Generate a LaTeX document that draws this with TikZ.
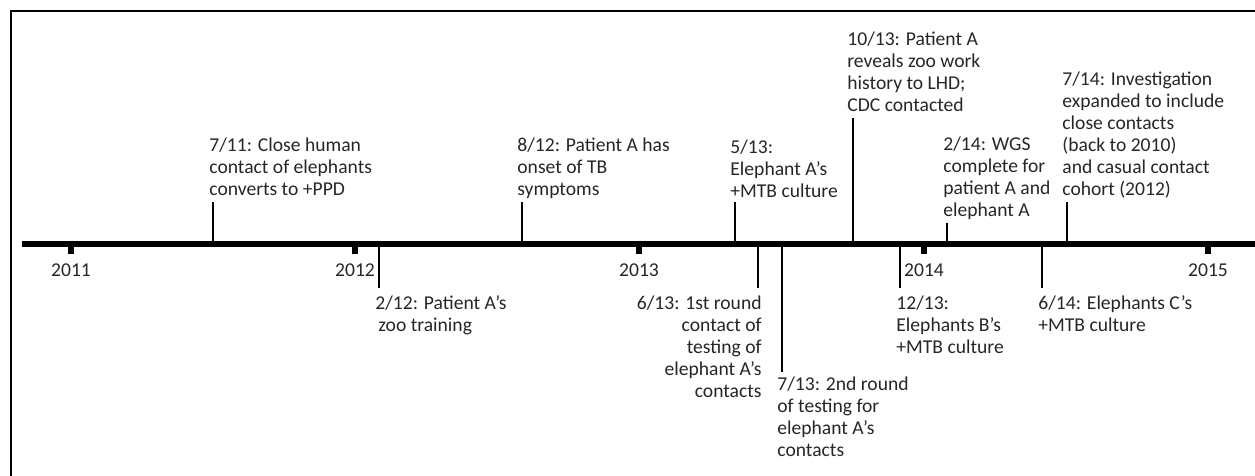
\documentclass[tikz,border=0pt]{standalone}
\usepackage{fontspec}
\setmainfont{Carlito}
\begin{document}
\begin{tikzpicture}[x=0.5pt, y=-0.5pt,
    evtext/.style={inner sep=0pt, font=\fontsize{9.8}{11}\selectfont, text=black!85},
    evline/.style={line width=1.3pt},
    yeartick/.style={line width=2.6pt}]
    \useasboundingbox (0,0) rectangle (1255,476);
    % frame (cut off at right and bottom)
    \draw[line width=1.1pt] (11,490) -- (11,11) -- (1270,11);
    % axis
    \coordinate (start) at (22,244);
    \coordinate (end) at (1270,244);
    \draw[line width=3.2pt] (start) -- (end);
    \foreach \yr/\x in {2011/71,2012/355,2013/639,2014/924,2015/1208}{
        \draw[yeartick] (\x,244) -- (\x,254);
        \node[evtext] (y\yr) at (\x,270) {\yr};
    }
    % events above the axis
    \coordinate (a711) at (213,244); \coordinate (b711) at (213,202);
    \coordinate (a812) at (522,244); \coordinate (b812) at (522,202);
    \coordinate (a513) at (735,244); \coordinate (b513) at (735,202);
    \coordinate (a1013) at (853,244); \coordinate (b1013) at (853,118);
    \coordinate (a214) at (947,244); \coordinate (b214) at (947,223);
    \coordinate (a714) at (1067,244); \coordinate (b714) at (1067,202);
    \draw[evline] (a711) -- (b711);
    \draw[evline] (a812) -- (b812);
    \draw[evline] (a513) -- (b513);
    \draw[evline] (a1013) -- (b1013);
    \draw[evline] (a214) -- (b214);
    \draw[evline] (a714) -- (b714);
    \node[evtext, anchor=north west, align=left] (t711) at (209,137) {7/11: Close human\\contact of elephants\\converts to +PPD};
    \node[evtext, anchor=north west, align=left] (t812) at (517,137) {8/12: Patient A has\\onset of TB\\symptoms};
    \node[evtext, anchor=north west, align=left] (t513) at (730,139) {5/13:\\Elephant A's\\+MTB culture};
    \node[evtext, anchor=north west, align=left] (t1013) at (847,31) {10/13: Patient A\\reveals zoo work\\history to LHD;\\CDC contacted};
    \node[evtext, anchor=north west, align=left] (t214) at (943,136) {2/14: WGS\\complete for\\patient A and\\elephant A};
    \node[evtext, anchor=north west, align=left] (t714) at (1062,71) {7/14: Investigation\\expanded to include\\close contacts\\(back to 2010)\\and casual contact\\cohort (2012)};
    % events below the axis
    \coordinate (a212) at (379,244); \coordinate (b212) at (379,288);
    \coordinate (a613) at (758,244); \coordinate (b613) at (758,288);
    \coordinate (a713) at (782,244); \coordinate (b713) at (782,372);
    \coordinate (a1213) at (900,244); \coordinate (b1213) at (900,288);
    \coordinate (a614) at (1042,244); \coordinate (b614) at (1042,288);
    \draw[evline] (a212) -- (b212);
    \draw[evline] (a613) -- (b613);
    \draw[evline] (a713) -- (b713);
    \draw[evline] (a1213) -- (b1213);
    \draw[evline] (a614) -- (b614);
    \node[evtext, anchor=north west, align=left] (t212) at (375,295) {2/12: Patient A's\\\hspace{1.5pt}zoo training};
    \node[evtext, anchor=north east, align=right] (t613) at (762,295) {6/13: 1st round\\contact of\\testing of\\elephant A's\\contacts};
    \node[evtext, anchor=north west, align=left] (t713) at (777,376) {7/13: 2nd round\\of testing for\\elephant A's\\contacts};
    \node[evtext, anchor=north west, align=left] (t1213) at (896,295) {12/13:\\Elephants B's\\+MTB culture};
    \node[evtext, anchor=north west, align=left] (t614) at (1038,295) {6/14: Elephants C's\\+MTB culture};
\end{tikzpicture}
\end{document}
